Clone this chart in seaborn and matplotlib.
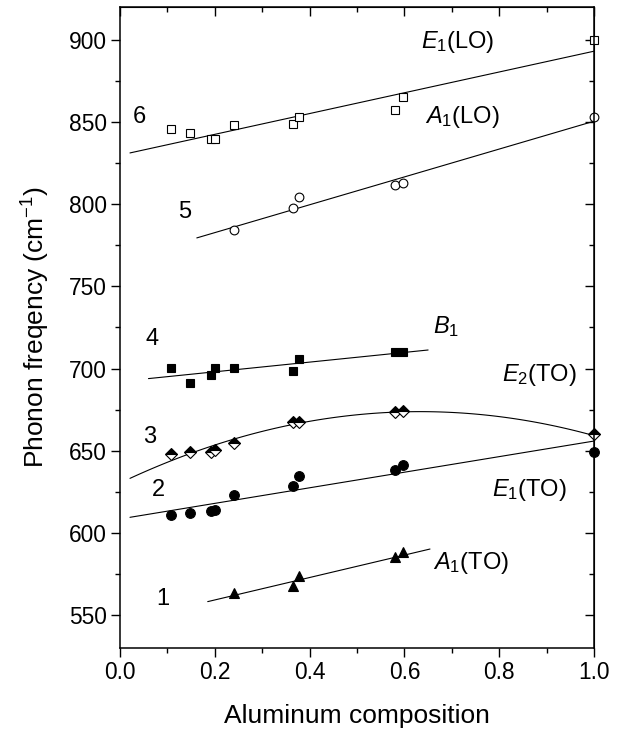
import matplotlib
matplotlib.use('Agg')
import matplotlib.pyplot as plt
import seaborn as sns

sns.set_style('ticks', rc={'axes.edgecolor': 'black', 'text.color': 'black',
                           'axes.labelcolor': 'black', 'xtick.color': 'black',
                           'ytick.color': 'black'})
plt.rcParams['font.family'] = ['Liberation Sans', 'DejaVu Sans']
plt.rcParams['mathtext.fontset'] = 'custom'
plt.rcParams['mathtext.rm'] = 'Liberation Sans'
plt.rcParams['mathtext.it'] = 'Liberation Sans:italic'

# aluminum composition of the samples
x_comp = [0.108, 0.148, 0.193, 0.2, 0.24, 0.366, 0.378, 0.58, 0.598, 1.0]

# mode 6: E1(LO)
e1lo_y = [845.8, 843.4, 839.7, 839.7, 848.4, 848.7, 853.0, 857.6, 865.5, 900.0]
# mode 5: A1(LO)
a1lo_x = [0.24, 0.366, 0.378, 0.58, 0.598, 1.0]
a1lo_y = [784.4, 797.6, 804.6, 811.7, 812.8, 853.0]
# mode 4: B1
b1_x = x_comp[:9]
b1_y = [700.4, 691.4, 696.3, 700.4, 700.4, 698.5, 705.7, 710.3, 710.3]
# mode 3: E2(TO)
e2to_y = [648.0, 649.4, 649.0, 650.5, 654.5, 667.3, 667.3, 673.8, 674.2, 660.2]
# mode 2: E1(TO)
e1to_y = [611.1, 612.3, 613.1, 614.1, 623.3, 628.4, 634.4, 638.3, 641.3, 649.4]
# mode 1: A1(TO)
a1to_x = [0.24, 0.366, 0.378, 0.58, 0.598]
a1to_y = [563.2, 567.9, 573.6, 585.1, 588.2]

# fitted lines (end points)
e1lo_fit_x, e1lo_fit_y = [0.021, 1.0], [831.2, 893.1]
a1lo_fit_x, a1lo_fit_y = [0.162, 1.0], [779.5, 850.5]
b1_fit_x, b1_fit_y = [0.06, 0.65], [693.9, 711.3]
e1to_fit_x, e1to_fit_y = [0.021, 1.0], [609.5, 655.9]
a1to_fit_x, a1to_fit_y = [0.185, 0.654], [558.2, 590.2]
# parabola for E2(TO): start, top, end
e2to_fit_x, e2to_fit_y = [0.021, 0.634, 1.0], [633.2, 673.8, 659.2]

fig = plt.figure(figsize=(6.19, 7.36), dpi=100)
ax = fig.add_axes([0.1939, 0.1196, 0.7657, 0.8709])

line_kw = dict(color='black', linewidth=0.8, estimator=None, sort=False, legend=False)
for fx, fy in [(e1lo_fit_x, e1lo_fit_y), (a1lo_fit_x, a1lo_fit_y), (b1_fit_x, b1_fit_y),
               (e1to_fit_x, e1to_fit_y), (a1to_fit_x, a1to_fit_y)]:
    sns.lineplot(x=fx, y=fy, ax=ax, **line_kw)
sns.regplot(x=e2to_fit_x, y=e2to_fit_y, order=2, scatter=False, ci=None, truncate=True,
            ax=ax, line_kws=dict(color='black', linewidth=0.8))

mk = dict(linestyle='', estimator=None, sort=False, legend=False, clip_on=False,
          color='black', markeredgecolor='black', markeredgewidth=0.8)
sns.lineplot(x=x_comp, y=e1lo_y, ax=ax, marker='s', markersize=5.6, markerfacecolor='white', **mk)
sns.lineplot(x=a1lo_x, y=a1lo_y, ax=ax, marker='o', markersize=6.3, markerfacecolor='white', **mk)
sns.lineplot(x=b1_x, y=b1_y, ax=ax, marker='s', markersize=6.3, markerfacecolor='black', **mk)
sns.lineplot(x=x_comp, y=e2to_y, ax=ax, marker='D', markersize=6.3, fillstyle='top',
             markerfacecolor='black', markerfacecoloralt='white', **mk)
sns.lineplot(x=x_comp, y=e1to_y, ax=ax, marker='o', markersize=7, markerfacecolor='black', **mk)
sns.lineplot(x=a1to_x, y=a1to_y, ax=ax, marker='^', markersize=7.5, markerfacecolor='black', **mk)

ax.set_xlim(0, 1.0)
ax.set_ylim(530, 920)
ax.set_xticks([0.0, 0.2, 0.4, 0.6, 0.8, 1.0])
ax.set_xticks([0.1, 0.3, 0.5, 0.7, 0.9], minor=True)
ax.set_yticks([550, 600, 650, 700, 750, 800, 850, 900])
ax.set_yticks([575, 625, 675, 725, 775, 825, 875], minor=True)
ax.xaxis.set_major_formatter(matplotlib.ticker.FormatStrFormatter('%.1f'))

for s in ax.spines.values():
    s.set_linewidth(1.1)
    s.set_color('black')
ax.tick_params(which='major', direction='out', length=6.5, width=1.0, labelsize=16.4, pad=3)
ax.tick_params(which='minor', direction='out', length=3.6, width=1.0)

# inward ticks on top and right
top = ax.secondary_xaxis('top')
top.set_xticks([0.0, 0.2, 0.4, 0.6, 0.8, 1.0])
top.set_xticks([0.1, 0.3, 0.5, 0.7, 0.9], minor=True)
top.tick_params(which='major', direction='in', length=6.5, width=1.0, labeltop=False)
top.tick_params(which='minor', direction='in', length=3.6, width=1.0)
right = ax.secondary_yaxis('right')
right.set_yticks([550, 600, 650, 700, 750, 800, 850, 900])
right.set_yticks([575, 625, 675, 725, 775, 825, 875], minor=True)
right.tick_params(which='major', direction='in', length=6.5, width=1.0, labelright=False)
right.tick_params(which='minor', direction='in', length=3.6, width=1.0)

ax.set_xlabel('Aluminum composition', fontsize=19, labelpad=14)
ax.set_ylabel('Phonon freqency (cm$^{-1}$)', fontsize=19, labelpad=12)

lab = dict(fontsize=17, ha='left', va='baseline')
ax.text(0.636, 895.1, '$E_1$(LO)', **lab)
ax.text(0.643, 849.5, '$A_1$(LO)', **lab)
ax.text(0.660, 721.7, '$B_1$', **lab)
ax.text(0.806, 692.6, '$E_2$(TO)', **lab)
ax.text(0.785, 622.6, '$E_1$(TO)', **lab)
ax.text(0.660, 578.0, '$A_1$(TO)', **lab)

num = dict(fontsize=17, ha='center', va='center')
ax.text(0.040, 853.1, '6', **num)
ax.text(0.137, 795.3, '5', **num)
ax.text(0.068, 718.0, '4', **num)
ax.text(0.063, 658.4, '3', **num)
ax.text(0.082, 626.1, '2', **num)
ax.text(0.091, 559.8, '1', **num)

fig.savefig('out.png', dpi=100)
